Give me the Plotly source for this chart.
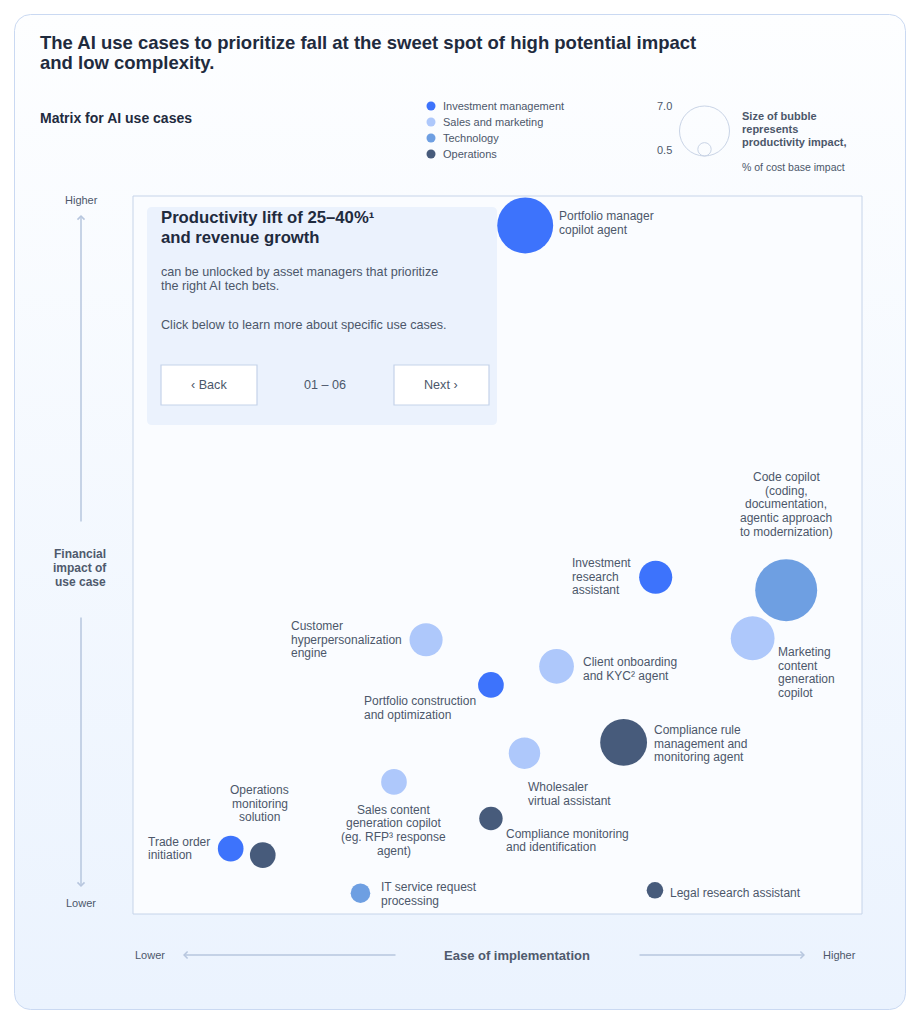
import base64
import numpy as np
import plotly.graph_objects as go

# page body has an 8px margin: the figure is drawn 8px smaller and coordinates are offset
OFF = 8
W, H = 920 - OFF, 1024 - OFF

# ---------------- data ----------------
CATEGORIES = ["Investment management", "Sales and marketing", "Technology", "Operations"]

USE_CASES = [
    "Portfolio manager<br>copilot agent",
    "Investment<br>research<br>assistant",
    "Code copilot<br>(coding,<br>documentation,<br>agentic approach<br>to modernization)",
    "Marketing<br>content<br>generation<br>copilot",
    "Customer<br>hyperpersonalization<br>engine",
    "Client onboarding<br>and KYC² agent",
    "Portfolio construction<br>and optimization",
    "Compliance rule<br>management and<br>monitoring agent",
    "Wholesaler<br>virtual assistant",
    "Sales content<br>generation copilot<br>(eg. RFP³ response<br>agent)",
    "Compliance monitoring<br>and identification",
    "Trade order<br>initiation",
    "Operations<br>monitoring<br>solution",
    "IT service request<br>processing",
    "Legal research assistant",
]
CATEGORY = [
    "Investment management", "Investment management", "Technology", "Sales and marketing",
    "Sales and marketing", "Sales and marketing", "Investment management", "Operations",
    "Sales and marketing", "Sales and marketing", "Operations", "Investment management",
    "Operations", "Technology", "Operations",
]
# ease of implementation (x, 0-100) and financial impact (y, 0-100)
EASE = [53.8, 71.7, 89.6, 85.0, 40.2, 58.1, 49.1, 67.3, 53.7, 35.8, 49.1, 13.4, 17.8, 31.2, 71.6]
FIN_IMPACT = [95.9, 46.9, 45.1, 38.4, 38.2, 34.5, 31.9, 23.9, 22.4, 18.4, 13.3, 9.1, 8.2, 2.9, 3.3]
# productivity impact, % of cost base (bubble size)
PRODUCTIVITY = [5.7, 2.0, 7.0, 3.5, 2.0, 2.2, 1.2, 4.0, 1.8, 1.2, 1.0, 1.2, 1.2, 0.7, 0.5]
SIZE_LEGEND = [7.0, 0.5]

# ---------------- style ----------------
COLORS = {
    "Investment management": "#3d73fc",
    "Sales and marketing": "#aec8fb",
    "Technology": "#6e9fe2",
    "Operations": "#475b7b",
}
FONT = "Liberation Sans, Arial, sans-serif"
DARK = "#1f2b3e"
TXT = "#4c576a"
ARROW = "#b7c6de"
MAX_D = 62  # px diameter of the largest value
TX_ADJ = -1.2  # small horizontal text correction

# label placement relative to bubble centre: (dx px, dy of first line px (down +), align)
LABEL_POS = [
    (34, -9.5, "left"), (-83.5, -14, "left"), (0, -113, "center"), (26, 14, "left"),
    (-135, -13.5, "left"), (26.5, -4, "left"), (-127, 16, "left"), (30.5, -12.5, "left"),
    (3.5, 34, "left"), (0, 28, "center"), (15, 15.3, "left"), (-82, -6.8, "left"),
    (-3, -65, "center"), (20.5, -6, "left"), (15, 3, "left"),
]
LINE_H = 13.6

PLOT_L, PLOT_R, PLOT_T, PLOT_B = 133, 862, 196, 914  # page pixels


def px(x):
    return (x - OFF) / W


def py(y):
    return 1 - (y - OFF) / H


fig = go.Figure()


def diam(v):
    return MAX_D * np.sqrt(np.asarray(v, dtype=float) / max(PRODUCTIVITY))


for cat in CATEGORIES:
    idx = [i for i, c in enumerate(CATEGORY) if c == cat]
    fig.add_trace(go.Scatter(
        x=[EASE[i] for i in idx], y=[FIN_IMPACT[i] for i in idx],
        mode="markers", name=cat, showlegend=False,
        marker=dict(size=diam([PRODUCTIVITY[i] for i in idx]), sizemode="diameter",
                    color=COLORS[cat], opacity=1, line=dict(width=0)),
        hovertext=[USE_CASES[i].replace("<br>", " ") for i in idx], hoverinfo="text",
        cliponaxis=False,
    ))

annotations = []
shapes = []


def text(x, y, t, size, color, bold=False, anchor="left"):
    adj = TX_ADJ if anchor == "left" else 0
    annotations.append(dict(
        x=px(x + adj), y=py(y), xref="paper", yref="paper",
        text=f"<b>{t}</b>" if bold else t, showarrow=False, xanchor=anchor, yanchor="middle",
        font=dict(size=size, color=color, family=FONT), borderpad=0,
    ))


def lines(x, y0, t, size, color, spacing, bold=False, anchor="left"):
    for k, ln in enumerate(t.split("<br>")):
        text(x, y0 + k * spacing, ln, size, color, bold, anchor)


# bubble labels anchored to data coordinates
for i, lab in enumerate(USE_CASES):
    dx, dy, al = LABEL_POS[i]
    adj = TX_ADJ if al == "left" else 0
    for k, ln in enumerate(lab.split("<br>")):
        annotations.append(dict(
            x=EASE[i], y=FIN_IMPACT[i], xref="x", yref="y", text=ln, showarrow=False,
            xanchor=al, yanchor="middle", align=al, xshift=dx + adj, yshift=-(dy + k * LINE_H),
            font=dict(size=12, color=TXT, family=FONT), borderpad=0,
        ))

# title
lines(40, 42, "The AI use cases to prioritize fall at the sweet spot of high potential impact<br>and low complexity.",
      18.5, DARK, 20.5, bold=True)
text(40, 118, "Matrix for AI use cases", 14, DARK, bold=True)

# category legend
for k, cat in enumerate(CATEGORIES):
    yy = 106 + 16 * k
    shapes.append(dict(type="circle", xref="paper", yref="paper",
                       x0=px(431 - 4.5), x1=px(431 + 4.5), y0=py(yy + 4.5), y1=py(yy - 4.5),
                       fillcolor=COLORS[cat], line=dict(width=0)))
    text(443, yy, cat, 11, TXT)

# size legend
cx, base = 704.5, 156
LEG_MAX = 50
for v in SIZE_LEGEND:
    d = LEG_MAX * np.sqrt(v / max(SIZE_LEGEND))
    shapes.append(dict(type="circle", xref="paper", yref="paper",
                       x0=px(cx - d / 2), x1=px(cx + d / 2), y0=py(base), y1=py(base - d),
                       fillcolor="rgba(0,0,0,0)", line=dict(color="#c9d4e6", width=1)))
text(673, 106, f"{SIZE_LEGEND[0]:.1f}", 11, TXT, anchor="right")
text(673, 150, f"{SIZE_LEGEND[1]:.1f}", 11, TXT, anchor="right")
lines(742, 116, "Size of bubble<br>represents<br>productivity impact,", 11, TXT, 13, bold=True)
text(742, 167, "% of cost base impact", 10.5, TXT)

# y axis labels
text(81, 200, "Higher", 11, TXT, anchor="center")
text(81, 903, "Lower", 11, TXT, anchor="center")
lines(80, 554, "Financial<br>impact of<br>use case", 12, "#4f5a6d", 14, bold=True, anchor="center")
# x axis labels
text(150, 955, "Lower", 11, TXT, anchor="center")
text(839, 955, "Higher", 11, TXT, anchor="center")
text(517, 955, "Ease of implementation", 13, "#4f5a6d", bold=True, anchor="center")


def arrow(hx, hy, tx, ty):
    annotations.append(dict(x=px(hx), y=py(hy), xref="paper", yref="paper", ax=tx - hx, ay=ty - hy,
                            axref="pixel", ayref="pixel", text="", showarrow=True,
                            arrowhead=4, arrowsize=0.9, arrowwidth=1.5, arrowcolor=ARROW))


arrow(81, 215, 81, 523)
arrow(81, 887, 81, 616)
arrow(183, 955, 397, 955)
arrow(805, 955, 638, 955)

# plot box
shapes.append(dict(type="rect", xref="x domain", yref="y domain", x0=0, x1=1, y0=0, y1=1,
                   fillcolor="#fafcff", line=dict(color="#c6d4e9", width=1), layer="below"))

# info box (rounded)
bx0, bx1, by0, by1, r = 147, 497, 207, 425, 5
path = (f"M {px(bx0 + r)},{py(by0)} L {px(bx1 - r)},{py(by0)} Q {px(bx1)},{py(by0)} {px(bx1)},{py(by0 + r)} "
        f"L {px(bx1)},{py(by1 - r)} Q {px(bx1)},{py(by1)} {px(bx1 - r)},{py(by1)} "
        f"L {px(bx0 + r)},{py(by1)} Q {px(bx0)},{py(by1)} {px(bx0)},{py(by1 - r)} "
        f"L {px(bx0)},{py(by0 + r)} Q {px(bx0)},{py(by0)} {px(bx0 + r)},{py(by0)} Z")
shapes.append(dict(type="path", xref="paper", yref="paper", path=path,
                   fillcolor="#ebf2fd", line=dict(width=0), layer="above"))
for (x0, x1) in [(161, 257), (394, 489)]:
    shapes.append(dict(type="rect", xref="paper", yref="paper", x0=px(x0), x1=px(x1), y0=py(405), y1=py(365),
                       fillcolor="#ffffff", line=dict(color="#c5d3ea", width=1.2), layer="above"))
lines(161, 218, "Productivity lift of 25–40%¹<br>and revenue growth", 16.7, DARK, 19, bold=True)
lines(161, 272, "can be unlocked by asset managers that prioritize<br>the right AI tech bets.", 12.6, TXT, 14)
text(161, 325, "Click below to learn more about specific use cases.", 12.6, TXT)
text(209, 385, "‹ Back", 12.6, TXT, anchor="center")
text(325, 385, "01 – 06", 12.6, TXT, anchor="center")
text(441, 385, "Next ›", 12.6, TXT, anchor="center")

# card background (gradient) as inline svg image, in figure pixel space
cx0, cy0 = 14.5 - OFF, 14.5 - OFF
svg = (f'<svg xmlns="http://www.w3.org/2000/svg" width="{W}" height="{H}" viewBox="0 0 {W} {H}">'
       '<defs><linearGradient id="g" x1="0" y1="0" x2="0" y2="1">'
       '<stop offset="0" stop-color="#fdfeff"/><stop offset="1" stop-color="#ebf3fe"/></linearGradient></defs>'
       f'<rect x="{cx0}" y="{cy0}" width="891" height="995" rx="16" ry="16" fill="url(#g)" '
       'stroke="#cad9f2" stroke-width="1"/></svg>')
src = "data:image/svg+xml;base64," + base64.b64encode(svg.encode()).decode()

fig.update_layout(
    width=W, height=H, autosize=False,
    margin=dict(l=0, r=0, t=0, b=0),
    paper_bgcolor="#ffffff", plot_bgcolor="rgba(0,0,0,0)",
    xaxis=dict(range=[0, 100], domain=[px(PLOT_L), px(PLOT_R)], visible=False, fixedrange=True),
    yaxis=dict(range=[0, 100], domain=[py(PLOT_B), py(PLOT_T)], visible=False, fixedrange=True),
    annotations=annotations, shapes=shapes,
    images=[dict(source=src, xref="paper", yref="paper", x=0, y=1, sizex=1, sizey=1,
                 xanchor="left", yanchor="top", sizing="stretch", layer="below")],
    showlegend=False,
    font=dict(family=FONT),
)

fig.write_html("out.html", config={"displayModeBar": False})
